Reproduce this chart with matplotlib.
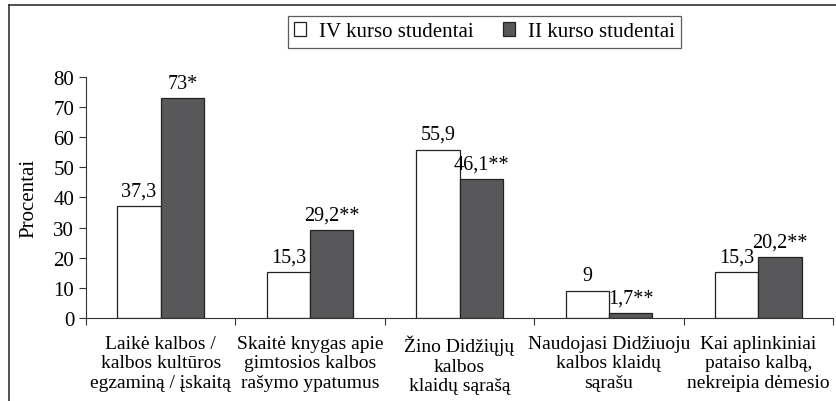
import numpy as np
import matplotlib
matplotlib.use("Agg")
import matplotlib.pyplot as plt
from matplotlib.lines import Line2D

plt.rcParams['font.family'] = ['Liberation Serif', 'DejaVu Serif']

categories = ["Laikė kalbos /\nkalbos kultūros\negzaminą / įskaitą",
              "Skaitė knygas apie\ngimtosios kalbos\nrašymo ypatumus",
              "Žino Didžiųjų\nkalbos\nklaidų sąrašą",
              "Naudojasi Didžiuoju\nkalbos klaidų\nsąrašu",
              "Kai aplinkiniai\npataiso kalbą,\nnekreipia dėmesio"]
iv_kurso = [37.3, 15.3, 55.9, 9, 15.3]
ii_kurso = [73, 29.2, 46.1, 1.7, 20.2]
iv_labels = ["37,3", "15,3", "55,9", "9", "15,3"]
ii_labels = ["73*", "29,2**", "46,1**", "1,7**", "20,2**"]
series_names = ["IV kurso studentai", "II kurso studentai"]

fs = 15

fig = plt.figure(figsize=(8.36, 4.02), dpi=100)
ax = fig.add_axes([0.1029, 0.2065, 0.8935, 0.5995])

x = np.arange(len(categories))
w = 0.29
b1 = ax.bar(x - w/2, iv_kurso, w, color='white', edgecolor='#222222', linewidth=0.9, label=series_names[0])
b2 = ax.bar(x + w/2, ii_kurso, w, color='#58585a', edgecolor='#222222', linewidth=0.9, label=series_names[1])

for bars, labs in [(b1, iv_labels), (b2, ii_labels)]:
    for rect, lab in zip(bars, labs):
        ax.annotate(lab, (rect.get_x() + rect.get_width()/2, rect.get_height()),
                    xytext=(0, 4), textcoords='offset points',
                    ha='center', va='bottom', fontsize=14.5)

ax.set_xlim(-0.5, len(categories) - 0.5)
ax.set_ylim(0, 80)
ax.set_yticks(range(0, 81, 10))
ax.set_xticks(np.arange(-0.5, len(categories), 1.0))
ax.set_xticklabels([])
ax.set_xticks(x, minor=True)
ax.set_xticklabels(categories, minor=True, fontsize=14, linespacing=1.2)
ax.tick_params(axis='x', which='minor', length=0, pad=12)
ax.tick_params(axis='x', which='major', length=5, direction='out', color='#333333')
ax.tick_params(axis='y', length=5, direction='out', labelsize=fs, color='#333333')
for s in ['top', 'right']:
    ax.spines[s].set_visible(False)
for s in ['left', 'bottom']:
    ax.spines[s].set_color('#333333')
ax.set_ylabel("Procentai", fontsize=fs, labelpad=11)

leg = ax.legend(loc='upper left', bbox_to_anchor=(0.270, 1.253), ncol=2, frameon=True,
                fancybox=False, edgecolor='#333333', fontsize=fs,
                handlelength=0.6, handleheight=0.6, handletextpad=0.6,
                columnspacing=1.4, borderpad=0.3, borderaxespad=0)
leg.get_frame().set_linewidth(0.9)

fig.add_artist(Line2D([9/836, 9/836], [0, 1 - 6/402], color='#333333', linewidth=1.2))
fig.add_artist(Line2D([9/836, 1], [1 - 6/402, 1 - 6/402], color='#333333', linewidth=1.2))

fig.savefig("out.png", dpi=100)
